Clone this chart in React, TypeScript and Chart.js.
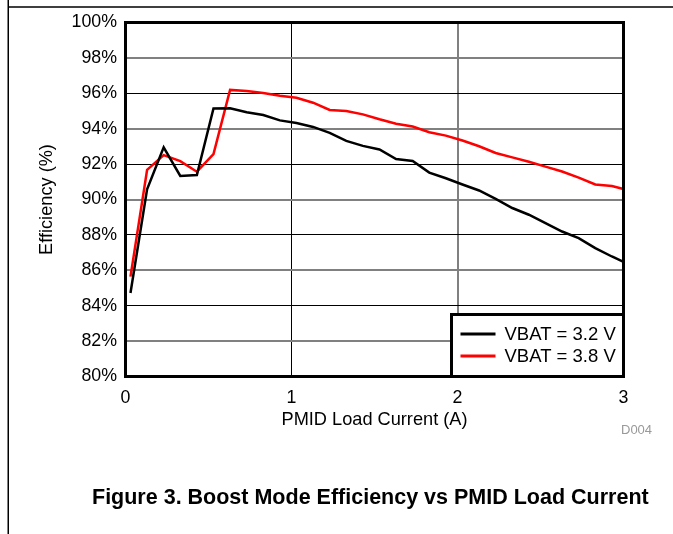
import React, { useEffect, useRef } from "react";
import { Chart, registerables } from "chart.js";

Chart.register(...registerables);

// Load current (A)
const loadCurrent = [
  0.03, 0.13, 0.23, 0.33, 0.43, 0.53, 0.63, 0.73, 0.83, 0.93, 1.03, 1.13, 1.23,
  1.33, 1.43, 1.53, 1.63, 1.73, 1.83, 1.93, 2.03, 2.13, 2.23, 2.33, 2.43, 2.53,
  2.63, 2.73, 2.83, 2.93, 3.0,
];
// Efficiency (%) for VBAT = 3.2 V
const effVbat32 = [
  84.72, 90.58, 92.95, 91.33, 91.38, 95.14, 95.15, 94.93, 94.77, 94.47, 94.32,
  94.1, 93.76, 93.31, 93.03, 92.83, 92.29, 92.18, 91.52, 91.2, 90.85, 90.51,
  90.03, 89.52, 89.14, 88.67, 88.19, 87.82, 87.25, 86.78, 86.48,
];
// Efficiency (%) for VBAT = 3.8 V
const effVbat38 = [
  85.64, 91.67, 92.51, 92.17, 91.57, 92.57, 96.19, 96.13, 96.02, 95.86, 95.75,
  95.47, 95.06, 95.0, 94.81, 94.53, 94.28, 94.12, 93.8, 93.61, 93.33, 93.01,
  92.63, 92.38, 92.13, 91.86, 91.58, 91.24, 90.85, 90.76, 90.59,
];
const seriesLabels = ["VBAT = 3.2 V", "VBAT = 3.8 V"];
const seriesColors = ["#000000", "#ff0000"];
const yMin = 80;
const yMax = 100;
const yStep = 2;
const xMin = 0;
const xMax = 3;
const xStep = 1;
const xTitle = "PMID Load Current (A)";
const yTitle = "Efficiency (%)";
const caption = "Figure 3. Boost Mode Efficiency vs PMID Load Current";
const figId = "D004";

const FONT = '"Liberation Sans", Arial, sans-serif';

const framePlugin = {
  id: "framePlugin",
  afterDraw(chart: any) {
    const ctx = chart.ctx;
    ctx.save();
    ctx.strokeStyle = "#000";
    ctx.lineWidth = 1.5;
    ctx.beginPath();
    ctx.moveTo(8.25, 0);
    ctx.lineTo(8.25, chart.height);
    ctx.moveTo(8, 7);
    ctx.lineTo(chart.width, 7);
    ctx.stroke();
    ctx.restore();
  },
  afterDatasetsDraw(chart: any) {
    const { ctx, chartArea } = chart;
    const { left, right, top, bottom } = chartArea;
    ctx.save();
    // legend box
    const bx = right - 172;
    const by = bottom - 62;
    ctx.fillStyle = "#fff";
    ctx.fillRect(bx, by, right - bx, bottom - by);
    ctx.strokeStyle = "#000";
    ctx.lineWidth = 3;
    ctx.strokeRect(bx, by, right - bx, bottom - by);
    chart.data.datasets.forEach((ds: any, i: number) => {
      const y = by + 19.5 + i * 22;
      ctx.strokeStyle = ds.borderColor;
      ctx.lineWidth = 3;
      ctx.beginPath();
      ctx.moveTo(bx + 9, y);
      ctx.lineTo(bx + 44, y);
      ctx.stroke();
      ctx.fillStyle = "#000";
      ctx.font = `18.5px ${FONT}`;
      ctx.textBaseline = "middle";
      ctx.textAlign = "left";
      ctx.fillText(ds.label, bx + 53, y + 1);
    });
    // plot border
    ctx.strokeStyle = "#000";
    ctx.lineWidth = 3;
    ctx.strokeRect(left, top, right - left, bottom - top);
    ctx.restore();
  },
};

export default function App() {
  const canvasRef = useRef<HTMLCanvasElement | null>(null);

  useEffect(() => {
    if (!canvasRef.current) return;
    const makeData = (vals: number[]) =>
      loadCurrent.map((x, i) => ({ x, y: vals[i] }));
    const chart = new Chart(canvasRef.current, {
      type: "line",
      data: {
        datasets: [
          {
            label: seriesLabels[0],
            data: makeData(effVbat32),
            borderColor: seriesColors[0],
            backgroundColor: seriesColors[0],
            borderWidth: 2.5,
            pointRadius: 0,
            tension: 0,
          },
          {
            label: seriesLabels[1],
            data: makeData(effVbat38),
            borderColor: seriesColors[1],
            backgroundColor: seriesColors[1],
            borderWidth: 2.5,
            pointRadius: 0,
            tension: 0,
          },
        ],
      },
      options: {
        responsive: false,
        animation: false,
        layout: { padding: { left: 0, right: 49.5, top: 22.5, bottom: 103.2 } },
        plugins: { legend: { display: false }, tooltip: { enabled: false } },
        scales: {
          x: {
            type: "linear",
            min: xMin,
            max: xMax,
            border: { display: false },
            grid: {
              drawTicks: false,
              color: (c: any) =>
                c.tick && (c.tick.value === xMin || c.tick.value === xMax)
                  ? "rgba(0,0,0,0)"
                  : c.tick && c.tick.value % 2 === 1
                  ? "#000"
                  : "#808080",
              lineWidth: (c: any) =>
                c.tick && c.tick.value % 2 === 1 ? 1 : 2,
            },
            ticks: {
              stepSize: xStep,
              padding: 11,
              color: "#000",
              font: { family: FONT, size: 17.8 },
              callback: (v: any) => String(v),
            },
            title: {
              display: true,
              text: xTitle,
              color: "#000",
              font: { family: FONT, size: 18.2 },
              padding: { top: 0, bottom: 0 },
            },
            afterFit: (s: any) => {
              s.height = 54.3;
            },
          },
          y: {
            type: "linear",
            min: yMin,
            max: yMax,
            border: { display: false },
            grid: {
              drawTicks: false,
              color: (c: any) =>
                c.tick && (c.tick.value === yMin || c.tick.value === yMax)
                  ? "rgba(0,0,0,0)"
                  : c.tick && c.tick.value % 4 === 0
                  ? "#000"
                  : "#808080",
              lineWidth: (c: any) =>
                c.tick && c.tick.value % 4 === 0 ? 1 : 2,
            },
            ticks: {
              stepSize: yStep,
              padding: 8.5,
              color: "#000",
              font: { family: FONT, size: 17.8 },
              callback: (v: any) => `${v}%`,
            },
            title: {
              display: true,
              text: yTitle,
              color: "#000",
              font: { family: FONT, size: 18.2 },
              padding: { top: 36.2, bottom: 0 },
            },
            afterFit: (s: any) => {
              s.width = 125.5;
            },
          },
        },
      },
      plugins: [framePlugin],
    });
    return () => chart.destroy();
  }, []);

  return (
    <div
      style={{
        position: "absolute",
        left: 0,
        top: 0,
        width: 673,
        height: 534,
        background: "#fff",
        overflow: "hidden",
      }}
    >
      <canvas ref={canvasRef} width={673} height={534} style={{ display: "block" }} />
      <div
        style={{
          position: "absolute",
          left: 621,
          top: 422,
          fontFamily: FONT,
          fontSize: 13,
          lineHeight: "15px",
          color: "#999",
          whiteSpace: "nowrap",
        }}
      >
        {figId}
      </div>
      <div
        style={{
          position: "absolute",
          left: 92,
          top: 485,
          fontFamily: FONT,
          fontSize: 21.5,
          fontWeight: "bold",
          lineHeight: "24px",
          color: "#000",
          whiteSpace: "nowrap",
        }}
      >
        {caption}
      </div>
    </div>
  );
}
